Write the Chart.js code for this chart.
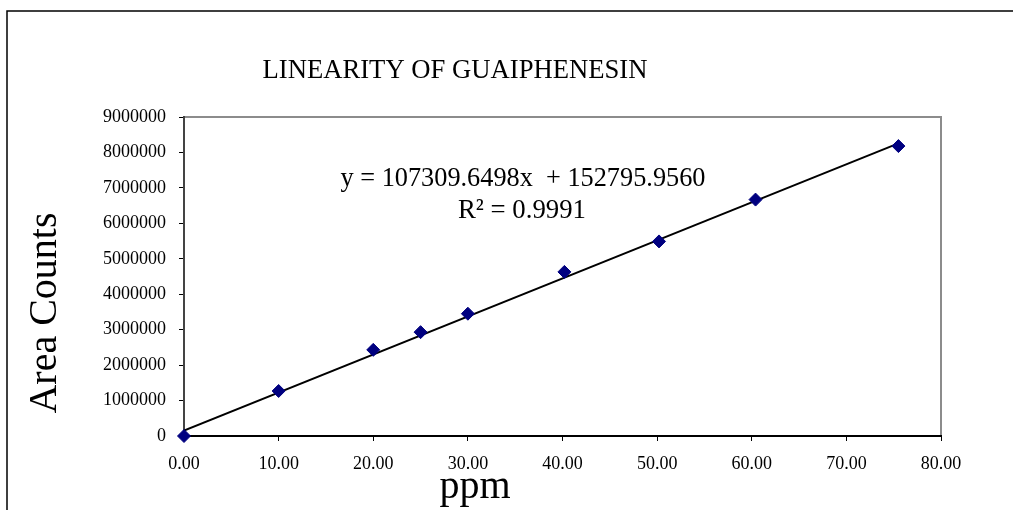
<!DOCTYPE html>
<html>
<head>
<meta charset="utf-8">
<script src="https://cdn.jsdelivr.net/npm/chart.js@4.4.0/dist/chart.umd.min.js"></script>
<style>
  html, body { margin:0; padding:0; background:#fff; }
  #wrap { position:relative; width:1013px; height:510px; }
</style>
</head>
<body>
<div id="wrap"><canvas id="c" width="1013" height="510"></canvas></div>
<script>
// measured concentrations (ppm) and peak area counts
const ppm = [0, 10, 20, 25, 30, 40.2, 50.2, 60.4, 75.5];
const areaCounts = [0, 1270000, 2430000, 2930000, 3450000, 4630000, 5490000, 6670000, 8180000];
// linear trendline end points (from the fitted equation)
const trendX = [0, 75.5];
const trendY = [152796, 8254675];
const yTicks = [0, 1000000, 2000000, 3000000, 4000000, 5000000, 6000000, 7000000, 8000000, 9000000];
const xTicks = [0, 10, 20, 30, 40, 50, 60, 70, 80];

const titleText = 'LINEARITY OF GUAIPHENESIN';
const eqText = 'y = 107309.6498x  + 152795.9560';
const r2Text = 'R\u00B2 = 0.9991';
const serif = '"Liberation Serif", "Times New Roman", serif';

// text squeezed to a given width (the original fonts are a bit condensed)
function fitText(ctx, text, cx, cy, size, width) {
  ctx.save();
  ctx.font = size + 'px ' + serif;
  const w = ctx.measureText(text).width;
  ctx.translate(cx, cy);
  ctx.scale(width / w, 1);
  ctx.fillText(text, 0, 0);
  ctx.restore();
}

const decor = {
  id: 'decor',
  beforeDraw(chart) {
    const { ctx, chartArea: a } = chart;
    ctx.save();
    // outer frame (top + left only, rest cut off)
    ctx.strokeStyle = '#000'; ctx.lineWidth = 1.5;
    ctx.beginPath(); ctx.moveTo(7, 510); ctx.lineTo(7, 11); ctx.lineTo(1013, 11); ctx.stroke();
    // plot box, grey top/right
    ctx.strokeStyle = '#8c8c8c'; ctx.lineWidth = 2;
    ctx.beginPath(); ctx.moveTo(a.left, a.top); ctx.lineTo(a.right, a.top); ctx.lineTo(a.right, a.bottom); ctx.stroke();
    ctx.restore();
  },
  afterDraw(chart) {
    const { ctx } = chart;
    ctx.save();
    ctx.fillStyle = '#000';
    ctx.textAlign = 'center'; ctx.textBaseline = 'middle';
    fitText(ctx, titleText, 455, 71, 27, 385);
    fitText(ctx, eqText, 523, 179, 28, 365);
    fitText(ctx, r2Text, 522, 211, 28, 128);
    ctx.font = '40px ' + serif;
    ctx.fillText('ppm', 475, 487);
    ctx.translate(45, 313); ctx.rotate(-Math.PI / 2);
    ctx.fillText('Area Counts', 0, 0);
    ctx.restore();
  }
};

new Chart(document.getElementById('c'), {
  type: 'scatter',
  data: {
    datasets: [
      { label: 'Area', data: ppm.map((x, i) => ({ x, y: areaCounts[i] })), clip: false,
        pointStyle: 'rectRot', pointRadius: 6.5, pointBackgroundColor: '#000080', pointBorderColor: '#000080', showLine: false, order: 0 },
      { label: 'Linear', type: 'line', data: trendX.map((x, i) => ({ x, y: trendY[i] })),
        borderColor: '#000', borderWidth: 2, pointRadius: 0, fill: false, order: 1 }
    ]
  },
  options: {
    responsive: false, animation: false,
    layout: { padding: { top: 117, right: 72, left: 0, bottom: 0 } },
    plugins: { legend: { display: false }, tooltip: { enabled: false } },
    scales: {
      x: {
        type: 'linear', min: 0, max: 80,
        afterBuildTicks: s => { s.ticks = xTicks.map(v => ({ value: v })); },
        afterFit: s => { s.height = 74; },
        grid: { drawOnChartArea: false, drawTicks: true, tickLength: 5, color: '#000', lineWidth: 1 },
        border: { display: true, color: '#000', width: 2 },
        ticks: { color: '#000', font: { family: serif, size: 18 }, padding: 12, maxRotation: 0, callback: v => v.toFixed(2) }
      },
      y: {
        type: 'linear', min: 0, max: 9000000,
        afterBuildTicks: s => { s.ticks = yTicks.map(v => ({ value: v })); },
        afterFit: s => { s.width = 184; },
        grid: { drawOnChartArea: false, drawTicks: true, tickLength: 5, color: '#000', lineWidth: 1 },
        border: { display: true, color: '#444', width: 2 },
        ticks: { color: '#000', font: { family: serif, size: 18 }, padding: 13, callback: v => String(v) }
      }
    }
  },
  plugins: [decor]
});
</script>
</body>
</html>
